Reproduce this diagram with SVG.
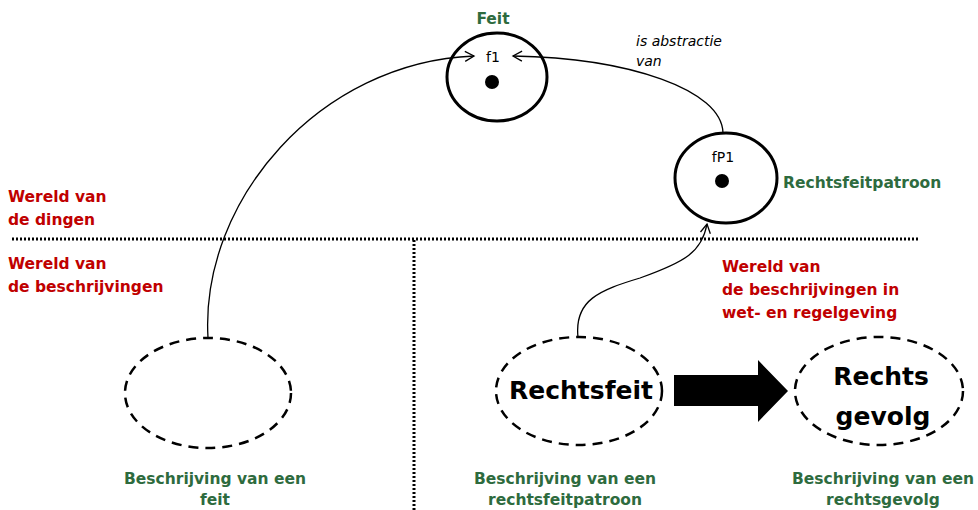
<svg xmlns="http://www.w3.org/2000/svg" width="978" height="510" viewBox="0 0 978 510">
<style>
text{font-family:"DejaVu Sans",Verdana,sans-serif}
.red{fill:#c00000;font-weight:bold;font-size:15.5px}
.grn{fill:#2e6b3e;font-weight:bold;font-size:15.5px}
.sm{font-size:14px;fill:#000}
.big{font-size:25px;font-weight:bold;fill:#000}
.solid{fill:none;stroke:#000;stroke-width:3}
.dash{fill:none;stroke:#000;stroke-width:2.5;stroke-dasharray:10 7}
.dot{fill:none;stroke:#000;stroke-width:3;stroke-dasharray:2 2}
.conn{fill:none;stroke:#000;stroke-width:1.3}
</style>
<defs>
<marker id="open" markerWidth="12" markerHeight="12" refX="10" refY="6" orient="auto" markerUnits="userSpaceOnUse">
<path d="M1,1 L10,6 L1,11" fill="none" stroke="#000" stroke-width="1.3"/>
</marker>
</defs>
<rect width="978" height="510" fill="#fff"/>
<g id="dividers">
<line class="dot" x1="12" y1="239" x2="918" y2="239"/>
<line class="dot" x1="414" y1="240" x2="414" y2="510"/>
</g>
<g id="world-labels">
<text class="red" x="8" y="202">Wereld van</text>
<text class="red" x="8" y="225">de dingen</text>
<text class="red" x="8" y="269">Wereld van</text>
<text class="red" x="8" y="292">de beschrijvingen</text>
<text class="red" x="722" y="272">Wereld van</text>
<text class="red" x="722" y="295">de beschrijvingen in</text>
<text class="red" x="722" y="318">wet- en regelgeving</text>
</g>
<g id="connectors">
<path class="conn" d="M208,338 C200,200 320,62 474,56" marker-end="url(#open)"/>
<path class="conn" d="M723,133 C722,90 630,58 513,56" marker-end="url(#open)"/>
<path class="conn" d="M578,337 C574,300 600,290 640,278 C685,262 702,252 707,224" marker-end="url(#open)"/>
<text class="sm" x="636" y="46" font-style="italic">is abstractie</text>
<text class="sm" x="636" y="66" font-style="italic">van</text>
</g>
<g id="feit">
<text class="grn" x="493" y="24" text-anchor="middle">Feit</text>
<ellipse class="solid" cx="497" cy="77" rx="50" ry="44"/>
<text class="sm" x="493" y="62" text-anchor="middle">f1</text>
<circle cx="492" cy="82" r="7" fill="#000"/>
</g>
<g id="fp1">
<ellipse class="solid" cx="726" cy="178" rx="51" ry="45"/>
<text class="sm" x="723" y="162" text-anchor="middle">fP1</text>
<circle cx="722" cy="181" r="7" fill="#000"/>
<text class="grn" x="783" y="188">Rechtsfeitpatroon</text>
</g>
<g id="beschrijving-feit">
<ellipse class="dash" cx="208" cy="393" rx="83" ry="55"/>
<text class="grn" x="215" y="484" text-anchor="middle">Beschrijving van een</text>
<text class="grn" x="215" y="505" text-anchor="middle">feit</text>
</g>
<g id="rechtsfeit">
<ellipse class="dash" cx="579" cy="391" rx="83" ry="54"/>
<text class="big" x="581" y="399" text-anchor="middle">Rechtsfeit</text>
<text class="grn" x="565" y="484" text-anchor="middle">Beschrijving van een</text>
<text class="grn" x="565" y="505" text-anchor="middle">rechtsfeitpatroon</text>
</g>
<g id="arrow">
<polygon points="674,375 758,375 758,360 788,391 758,422 758,406 674,406" fill="#000"/>
</g>
<g id="rechtsgevolg">
<ellipse class="dash" cx="879" cy="391" rx="84" ry="54"/>
<text class="big" x="881" y="385" text-anchor="middle">Rechts</text>
<text class="big" x="883" y="425" text-anchor="middle">gevolg</text>
<text class="grn" x="883" y="484" text-anchor="middle">Beschrijving van een</text>
<text class="grn" x="883" y="505" text-anchor="middle">rechtsgevolg</text>
</g>
</svg>
